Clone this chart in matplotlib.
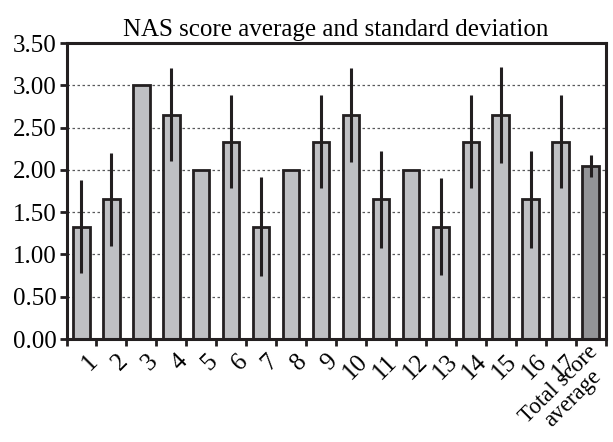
import numpy as np
import matplotlib.pyplot as plt
from matplotlib.transforms import ScaledTranslation

# Categories, means and standard deviations
labels = ['1', '2', '3', '4', '5', '6', '7', '8', '9', '10', '11', '12',
          '13', '14', '15', '16', '17', 'Total score\naverage']
means = [1.33, 1.65, 3.00, 2.65, 2.00, 2.33, 1.33, 2.00, 2.33, 2.65, 1.65, 2.00,
         1.33, 2.33, 2.65, 1.65, 2.33, 2.05]
sds = [0.55, 0.55, 0.0, 0.55, 0.0, 0.55, 0.58, 0.0, 0.55, 0.56, 0.57, 0.0,
       0.57, 0.55, 0.57, 0.57, 0.55, 0.13]

plt.rcParams['font.family'] = ['Liberation Serif', 'DejaVu Serif']

fig = plt.figure(figsize=(6.13, 4.42), dpi=100)
ax = fig.add_axes([66.5 / 613, 1 - 339 / 442, 539 / 613, 296 / 442])

x = np.arange(len(labels))
colors = ['#bfc0c3'] * (len(labels) - 1) + ['#939497']

ax.bar(x, means, width=0.55, color=colors, edgecolor='#231f20', linewidth=2, zorder=2)

# error bars (no caps), only where there is a deviation
for xi, m, s in zip(x, means, sds):
    if s > 0:
        ax.plot([xi, xi], [m - s, m + s], color='#231f20', lw=2.2, zorder=3,
                solid_capstyle='butt')

ax.set_xlim(-0.5, len(labels) - 0.5)
ax.set_ylim(0, 3.5)
ax.set_yticks(np.arange(0, 3.51, 0.5))
ax.set_yticklabels([f'{v:.2f}' for v in np.arange(0, 3.51, 0.5)], fontsize=18)

# dotted gridlines behind the bars
for v in np.arange(0.5, 3.49, 0.5):
    ax.axhline(v, color='#58595b', lw=0.9, ls=(0, (2, 2)), zorder=1)

# ticks at category edges, labels at centres
ax.set_xticks(np.arange(-0.5, len(labels), 1.0))
ax.set_xticklabels([])
ax.set_xticks(x, minor=True)
ax.set_xticklabels(labels, minor=True, rotation=45, ha='right', va='center',
                   rotation_mode='anchor', multialignment='center',
                   fontsize=18, linespacing=0.92)
ax.tick_params(axis='x', which='minor', length=0, pad=16)
ax.tick_params(axis='both', which='major', direction='out', length=5, width=2,
               color='#231f20', pad=2)

# nudge rotated labels to the right, as in the original
ticklabs = ax.get_xticklabels(minor=True)
for lab in ticklabs[:-1]:
    lab.set_transform(lab.get_transform()
                      + ScaledTranslation(13 / 100, 3 / 100, fig.dpi_scale_trans))
# the two-line label is a touch smaller so it stays inside the figure
ticklabs[-1].set_fontsize(16.5)
ticklabs[-1].set_transform(ticklabs[-1].get_transform()
                           + ScaledTranslation(11 / 100, 5 / 100, fig.dpi_scale_trans))

for sp in ax.spines.values():
    sp.set_linewidth(2.2)
    sp.set_color('#231f20')

ax.set_title('NAS score average and standard deviation', fontsize=18, pad=5)

fig.savefig('out.png', dpi=100)
